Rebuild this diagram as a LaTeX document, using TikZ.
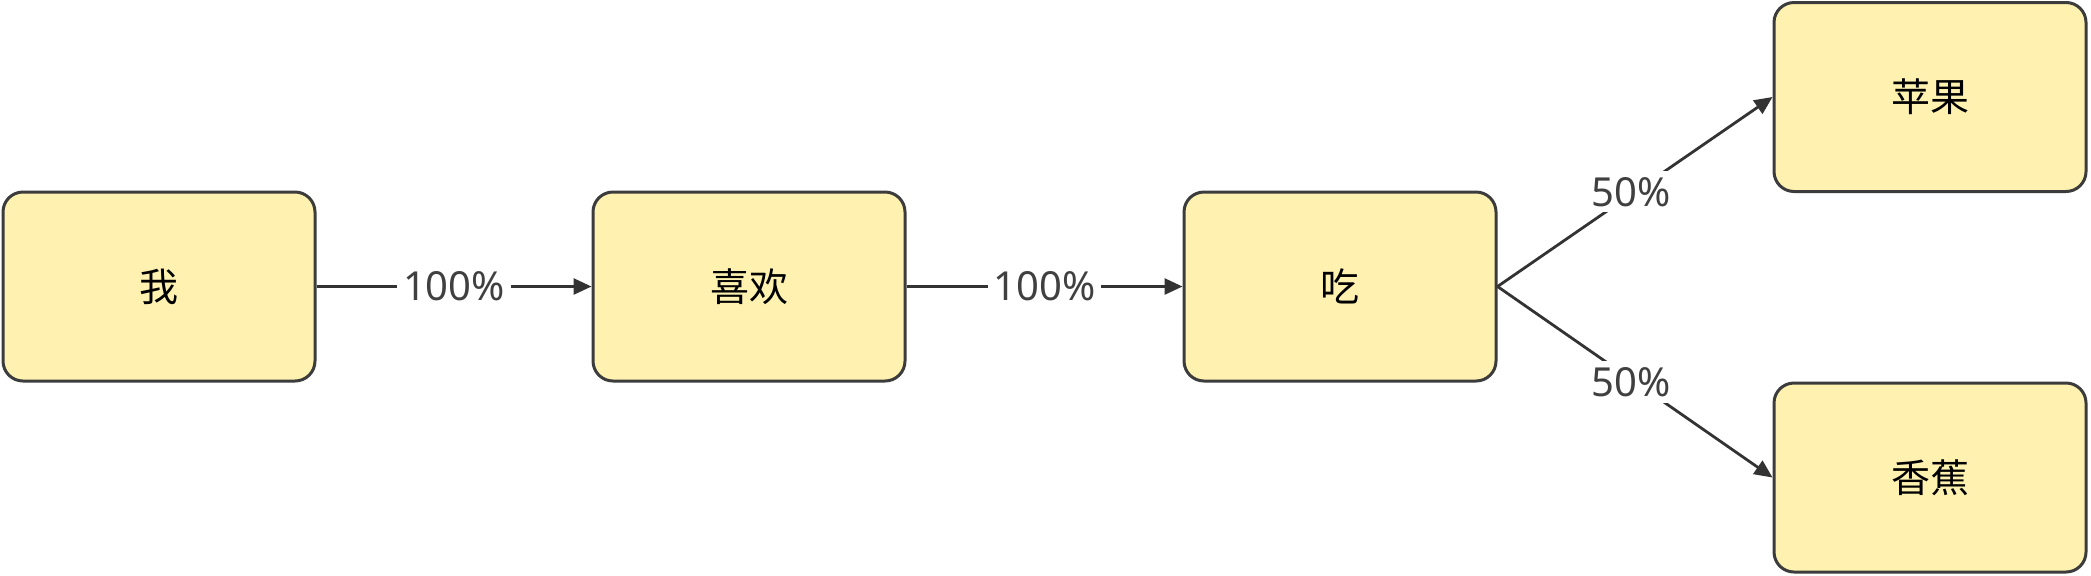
\documentclass[tikz,border=0pt]{standalone}
\usepackage{fontspec}
\setmainfont{Noto Sans}
\newfontfamily\cjk{Noto Sans CJK SC}
\usetikzlibrary{arrows.meta}
\definecolor{boxfill}{HTML}{FFF2B0}
\definecolor{boxline}{HTML}{3C3C3C}
\definecolor{edgecol}{HTML}{333333}
\definecolor{labcol}{HTML}{404040}
\begin{document}
\begin{tikzpicture}[x=0.5pt,y=-0.5pt,
  wordbox/.style={draw=boxline,fill=boxfill,line width=1.5pt,rounded corners=10pt,
    minimum width=156pt,minimum height=94.5pt,inner sep=0pt,font=\cjk\fontsize{19.5}{23}\selectfont},
  conn/.style={draw=edgecol,line width=1.4pt,-{Triangle[length=9pt,width=8pt]}},
  lab/.style={fill=white,inner sep=3pt,text=labcol,font=\fontsize{20}{24}\selectfont}]
\useasboundingbox (0,0) rectangle (2091,575);
\node[wordbox] (wo) at (159,286.5) {我};
\node[wordbox] (xh) at (749,286.5) {喜欢};
\node[wordbox] (chi) at (1340,286.5) {吃};
\node[wordbox] (pg) at (1930,97) {苹果};
\node[wordbox] (xj) at (1930,477.5) {香蕉};
\draw[conn] (wo.east) -- node[lab]{100\%} (xh.west);
\draw[conn] (xh.east) -- node[lab]{100\%} (chi.west);
\draw[conn] (chi.east) -- node[lab,xshift=-2pt]{50\%} (pg.west);
\draw[conn] (chi.east) -- node[lab,xshift=-2pt]{50\%} (xj.west);
\end{tikzpicture}
\end{document}
